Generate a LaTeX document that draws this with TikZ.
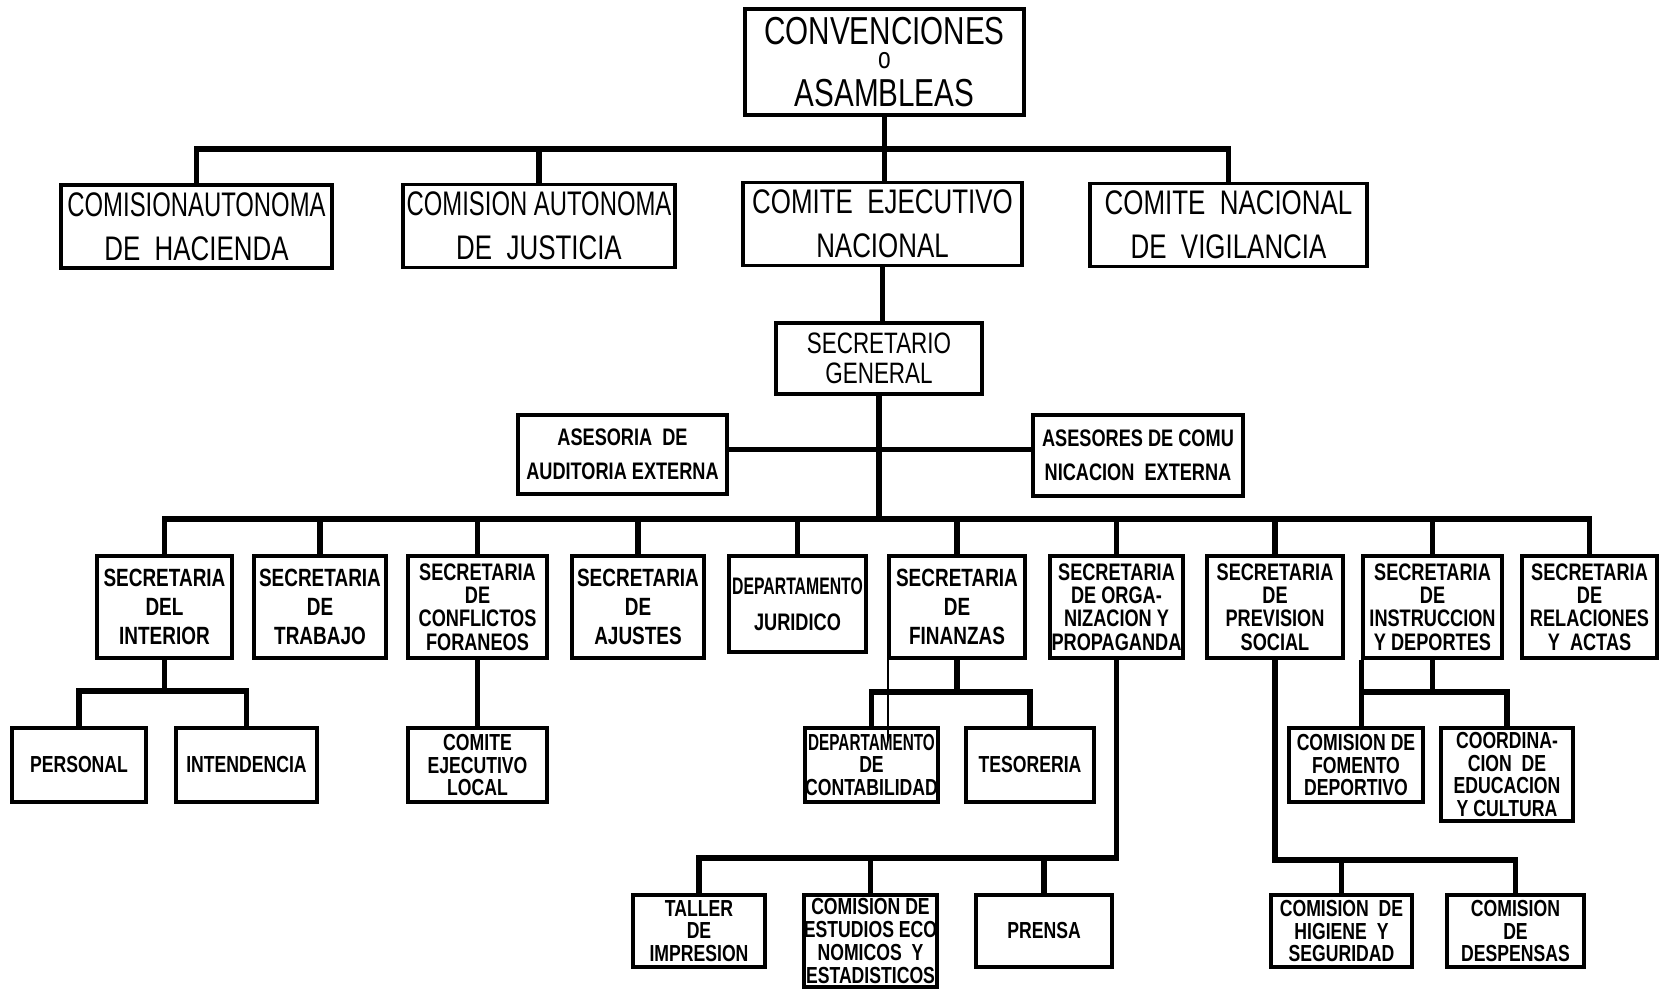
\documentclass[tikz,border=0pt]{standalone}
\usepackage{fontspec}
\setmainfont{Liberation Sans}[FakeStretch=0.76]
\newfontfamily\cramp{Liberation Sans}[FakeStretch=0.66]
\newfontfamily\crampw{Liberation Sans}[FakeStretch=0.70]

\tikzset{
  box/.style={draw, line width=1pt, inner sep=0pt, align=center, fill=white},
  conn/.style={line width=1.5pt},
  lvlone/.style={box, minimum height=8.3mm, font=\fontsize{9.7}{12.6}\selectfont},
  ases/.style={box, minimum height=7.9mm, font=\bfseries\fontsize{6.8}{9.6}\selectfont},
  sec/.style={box, minimum width=13.6mm, minimum height=10.2mm, font=\bfseries\fontsize{7.1}{8.3}\selectfont},
  secf/.style={sec, font=\bfseries\fontsize{6.8}{6.6}\selectfont},
  sub/.style={box, minimum width=13.4mm, minimum height=7.4mm, font=\bfseries\fontsize{6.6}{6.5}\selectfont}
}

\begin{document}
\begin{tikzpicture}[x=0.1mm, y=-0.1mm]
    \useasboundingbox (0,0) rectangle (1661,989);
    % top
    \node[box, minimum width=27.9mm, minimum height=10.6mm, font=\fontsize{11.1}{8.85}\selectfont] (conv) at (884.5,62)
      {CONVENCIONES\\[-1.9pt]{\fontsize{8.5}{8}\selectfont o}\\[2pt]ASAMBLEAS};
    \node[lvlone, minimum width=27.1mm] (hac) at (196.5,226.5) {{\crampw COMISIONAUTONOMA}\\DE\ \ HACIENDA};
    \node[lvlone, minimum width=27.2mm] (jus) at (539,226) {{\crampw COMISION AUTONOMA}\\DE\ \ JUSTICIA};
    \node[lvlone, minimum width=27.9mm] (cen) at (882.5,224) {COMITE\ \ EJECUTIVO\\NACIONAL};
    \node[lvlone, minimum width=27.7mm] (vig) at (1228.5,225) {COMITE\ \ NACIONAL\\DE\ \ VIGILANCIA};
    \node[box, minimum width=20.6mm, minimum height=7.1mm, font=\fontsize{8.4}{8.7}\selectfont] (sg) at (879,358.5) {SECRETARIO\\GENERAL};
    \node[ases, minimum width=20.9mm] (aud) at (622.5,454.5) {ASESORIA\ \ DE\\AUDITORIA EXTERNA};
    \node[ases, minimum width=21mm, minimum height=8.1mm] (com) at (1138,455.5) {ASESORES DE COMU\\NICACION\ \ EXTERNA};
    % secretarias
    \node[sec, minimum width=13.5mm] (int) at (164.5,607) {SECRETARIA\\DEL\\INTERIOR};
    \node[sec, minimum width=13.2mm] (tra) at (320,607) {SECRETARIA\\DE\\TRABAJO};
    \node[secf, minimum width=13.9mm] (con) at (477.5,607) {SECRETARIA\\DE\\CONFLICTOS\\FORANEOS};
    \node[sec, minimum width=13.2mm] (aju) at (638,607) {SECRETARIA\\DE\\AJUSTES};
    \node[sec, minimum width=13.7mm, minimum height=9.6mm, font=\bfseries\fontsize{6.8}{10.2}\selectfont] (jur) at (797.5,604) {{\cramp DEPARTAMENTO}\\JURIDICO};
    \node[sec] (fin) at (957,607) {SECRETARIA\\DE\\FINANZAS};
    \node[secf, minimum width=13.3mm] (org) at (1116.5,607) {SECRETARIA\\DE ORGA-\\NIZACION Y\\PROPAGANDA};
    \node[secf] (pre) at (1275,607) {SECRETARIA\\DE\\PREVISION\\SOCIAL};
    \node[secf, minimum width=13.9mm] (ins) at (1432.5,607) {SECRETARIA\\DE\\INSTRUCCION\\Y DEPORTES};
    \node[secf, minimum width=13.5mm] (rel) at (1589.5,607) {SECRETARIA\\DE\\RELACIONES\\Y\ \ ACTAS};
    % dependencias
    \node[sub] (per) at (79,765) {PERSONAL};
    \node[sub, minimum width=14.1mm] (inte) at (246.5,765) {INTENDENCIA};
    \node[sub, minimum width=13.9mm] (loc) at (477.5,765) {COMITE\\EJECUTIVO\\LOCAL};
    \node[sub, minimum width=12.9mm] (cont) at (871.5,765) {{\cramp DEPARTAMENTO}\\DE\\CONTABILIDAD};
    \node[sub, minimum width=12.8mm] (tes) at (1030,765) {TESORERIA};
    \node[sub] (fom) at (1356,765) {COMISION DE\\FOMENTO\\DEPORTIVO};
    \node[sub, minimum width=13.2mm, minimum height=9.3mm] (coo) at (1507,774.5) {COORDINA-\\CION\ \ DE\\EDUCACION\\Y CULTURA};
    \node[sub, minimum width=13.2mm, minimum height=7.2mm] (tal) at (699,931) {TALLER\\DE\\IMPRESION};
    \node[sub, minimum width=13.1mm, minimum height=9.2mm] (est) at (870.5,941) {COMISION DE\\ESTUDIOS ECO\\NOMICOS\ \ Y\\ESTADISTICOS};
    \node[sub, minimum width=13.6mm, minimum height=7.2mm] (pren) at (1044,931) {PRENSA};
    \node[sub, minimum width=14.1mm, minimum height=7.2mm] (hig) at (1341.5,931) {COMISION\ \ DE\\HIGIENE\ \ Y\\SEGURIDAD};
    \node[sub, minimum width=13.7mm, minimum height=7.2mm] (des) at (1515.5,931) {COMISION\\DE\\DESPENSAS};
    % buses
    \coordinate (b1) at (882,149);
    \coordinate (b2) at (877,519);
    \coordinate (bi) at (166,691);
    \coordinate (bf) at (957,692);
    \coordinate (bn) at (1432,692);
    \coordinate (bo) at (1111,858);
    \coordinate (bp) at (1275,860);
    \draw[conn] (conv.south) -- (conv.south |- cen.north);
    \draw[conn] (hac.north) |- (b1) -| (vig.north);
    \draw[conn] (jus.north) -- (jus.north |- b1);
    \draw[conn] (cen.south) -- (cen.south |- sg.north);
    \draw[conn] (sg.south) -- (sg.south |- b2);
    \draw[conn] ([yshift=0.5mm]aud.east) -- ([yshift=0.5mm]aud.east -| com.west);
    \draw[conn] (int.north) |- (b2) -| (rel.north);
    \foreach \n in {tra,con,aju,jur,fin,org,pre,ins}
      \draw[conn] (\n.north) -- (\n.north |- b2);
    \draw[conn] (int.south) -- (int.south |- bi);
    \draw[conn] (per.north) |- (bi) -| (inte.north);
    \draw[conn] (con.south) -- (loc.north);
    \draw[conn] (fin.south) -- (fin.south |- bf);
    \draw[conn] (cont.north) |- (bf) -| (tes.north);
    \draw[line width=0.6pt] ([xshift=0.1mm]fin.north west) -- ++(0,187);
    \draw[conn] (ins.south) -- (ins.south |- bn);
    \draw[conn] (ins.south west) |- (bn) -| (coo.north);
    \draw[conn] (ins.south west |- bn) -- (ins.south west |- fom.north);
    \draw[conn] (org.south) |- (bo) -| (tal.north);
    \foreach \n in {est,pren}
      \draw[conn] (\n.north) -- (\n.north |- bo);
    \draw[conn] (pre.south) |- (bp) -| (des.north);
    \draw[conn] (hig.north) -- (hig.north |- bp);
\end{tikzpicture}
\end{document}
